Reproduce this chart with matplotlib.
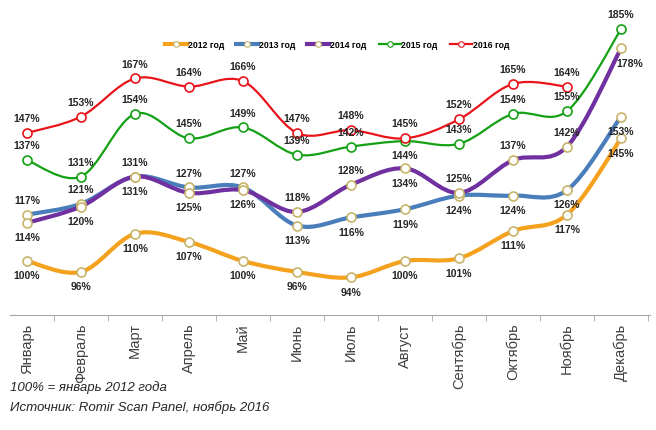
import numpy as np
import matplotlib.pyplot as plt
from matplotlib.path import Path
from matplotlib.patches import PathPatch
from matplotlib.lines import Line2D

plt.rcParams['font.family'] = ['Liberation Sans', 'DejaVu Sans']

# Данные
months = ["Январь", "Февраль", "Март", "Апрель", "Май", "Июнь", "Июль",
          "Август", "Сентябрь", "Октябрь", "Ноябрь", "Декабрь"]
years = ["2012 год", "2013 год", "2014 год", "2015 год", "2016 год"]
v2012 = [100, 96, 110, 107, 100, 96, 94, 100, 101, 111, 117, 145]
v2013 = [117, 121, 131, 127, 127, 113, 116, 119, 124, 124, 126, 153]
v2014 = [114, 120, 131, 125, 126, 118, 128, 134, 125, 137, 142, 178]
v2015 = [137, 131, 154, 145, 149, 139, 142, 144, 143, 154, 155, 185]
v2016 = [147, 153, 167, 164, 166, 147, 148, 145, 152, 165, 164]
series = [v2012, v2013, v2014, v2015, v2016]

# Оформление
colors = ["#F4A11D", "#4A7EBB", "#7030A0", "#14A014", "#E8141B"]
edge = ["#C8B46A", "#C8B46A", "#C8B46A", "#14A014", "#E8141B"]
widths = [3.0, 3.0, 3.0, 1.6, 1.6]
# положение подписей: a - над точкой, b - под точкой
pos = [
    "bbbbbbbbbbbb",
    "aaaaabbbbbbb",
    "bbbbbaabaaab",
    "aaaaaaabaaaa",
    "aaaaaaaaaaa",
]


def smooth_path(x, y):
    # сглаженная линия как в Excel (кривые Безье)
    pts = np.column_stack([x, y]).astype(float)
    n = len(pts)
    verts = [pts[0]]
    codes = [Path.MOVETO]
    for i in range(n - 1):
        p0 = pts[max(i - 1, 0)]
        p1 = pts[i]
        p2 = pts[i + 1]
        p3 = pts[min(i + 2, n - 1)]
        c1 = p1 + (p2 - p0) / 6
        c2 = p2 - (p3 - p1) / 6
        verts += [c1, c2, p2]
        codes += [Path.CURVE4] * 3
    return Path(verts, codes)


fig = plt.figure(figsize=(6.56, 4.30), dpi=100)
W, H = 656, 430
ax = fig.add_axes([10 / W, (H - 315) / H, 640 / W, 310 / H])
ax.set_xlim((10 - 27) / 54, (650 - 27) / 54)
ax.set_ylim(100 - (315 - 261) / 2.725, 100 + (261 - 5) / 2.725)

for k, vals in enumerate(series):
    x = np.arange(len(vals))
    patch = PathPatch(smooth_path(x, vals), fill=False, edgecolor=colors[k],
                      lw=widths[k], capstyle='round', joinstyle='round',
                      zorder=2 + k * 0.1)
    ax.add_patch(patch)
    ax.plot(x, vals, linestyle='none', marker='o', ms=6.5, mfc='white',
            mec=edge[k], mew=1.2, zorder=5)
    for i, v in enumerate(vals):
        dy = 10 if pos[k][i] == 'a' else -11
        dx = 6 if (k == 2 and i == 11) else 0
        ax.annotate(f"{v}%", (i, v), xytext=(dx, dy), textcoords='offset points',
                    ha='center', va='center', fontsize=7.5, fontweight='bold',
                    color='#262626', zorder=6)

for s in ['left', 'right', 'top']:
    ax.spines[s].set_visible(False)
ax.spines['bottom'].set_color('#A6A6A6')
ax.set_yticks([])
ax.set_xticks(range(12))
ax.set_xticklabels(months, rotation=90, fontsize=10.5, color='#404040')
ax.tick_params(axis='x', which='major', length=0, pad=6)
ax.set_xticks(np.arange(0.5, 11.6, 1), minor=True)
ax.tick_params(axis='x', which='minor', length=4, color='#A6A6A6')

handles = [Line2D([], [], color=colors[k], lw=widths[k], marker='o', ms=4,
                  mfc='white', mec=edge[k], mew=0.8) for k in range(5)]
ax.legend(handles, years, loc='center', bbox_to_anchor=(337 / W, (H - 45) / H),
          bbox_transform=fig.transFigure, ncol=5, frameon=False,
          prop={'size': 6.3, 'weight': 'bold'}, handlelength=2.5,
          handletextpad=0.1, columnspacing=1.4)

fig.text(10 / W, (H - 388) / H, "100% = январь 2012 года", fontsize=9.5,
         style='italic', color='#262626', va='center')
fig.text(10 / W, (H - 408) / H, "Источник: Romir Scan Panel, ноябрь 2016",
         fontsize=9.5, style='italic', color='#262626', va='center')

plt.savefig("out.png", dpi=100)
